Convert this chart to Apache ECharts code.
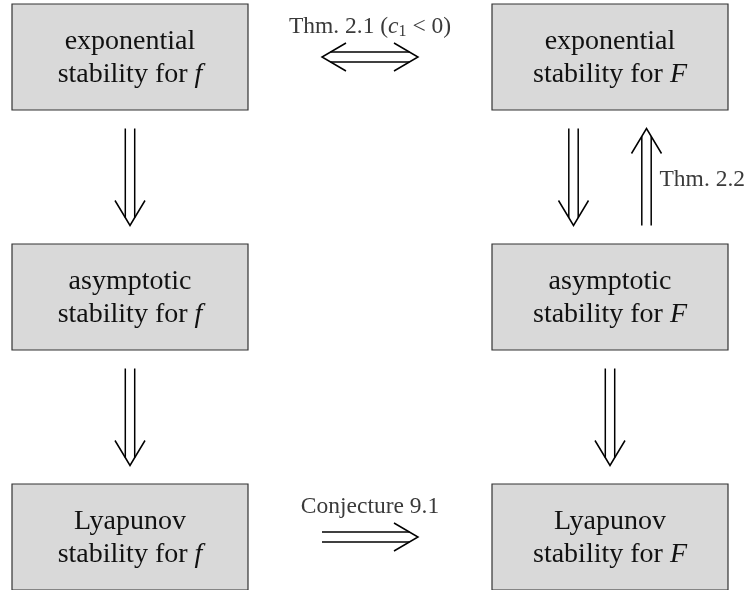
<!DOCTYPE html>
<html>
<head>
<meta charset="utf-8">
<script src="https://cdn.jsdelivr.net/npm/echarts@6/dist/echarts.min.js"></script>
<style>
  html, body { margin: 0; padding: 0; background: #fff; }
  #chart { width: 752px; height: 590px; }
</style>
</head>
<body>
<div id="chart"></div>
<script>
// boxes: grid column / row and their text
const boxCol = [0, 1, 0, 1, 0, 1]
const boxRow = [0, 0, 1, 1, 2, 2]
const boxTitle = ['exponential', 'exponential', 'asymptotic', 'asymptotic', 'Lyapunov', 'Lyapunov']
const boxVar = ['f', 'F', 'f', 'F', 'f', 'F']

// implications between boxes (indices into the box arrays)
const arrowFrom = [0, 2, 1, 3, 0, 4]
const arrowTo = [2, 4, 3, 5, 1, 5]
const arrowBoth = [false, false, false, false, true, false]
const arrowLabel = ['', '', '', '', 'Thm. 2.1 (', 'Conjecture 9.1']
// reverse implication drawn next to 1 -> 3
const extraFrom = [3]
const extraTo = [1]
const extraLabel = ['Thm. 2.2']

const FONT = '"Liberation Serif", "DejaVu Serif", serif'
const BOX_W = 236
const BOX_H = 106
const LEN = 48.5
const PAIR_GAP = 36.5
const BOX_FS = 28
const LAB_FS = 23.5

const allFrom = arrowFrom.concat(extraFrom)
const allTo = arrowTo.concat(extraTo)
const allBoth = arrowBoth.concat(extraFrom.map(() => false))
const allLabel = arrowLabel.concat(extraLabel)

function hasReverse(i) {
  for (let j = 0; j < allFrom.length; j++) {
    if (allFrom[j] === allTo[i] && allTo[j] === allFrom[i]) return true
  }
  return false
}

function head(tip, u, n, back, side) {
  return {
    type: 'polyline',
    shape: { points: [
      [tip[0] - u[0] * back + n[0] * side, tip[1] - u[1] * back + n[1] * side],
      tip,
      [tip[0] - u[0] * back - n[0] * side, tip[1] - u[1] * back - n[1] * side]
    ] },
    style: { stroke: '#000', lineWidth: 1.5, fill: null, lineJoin: 'miter' }
  }
}

const chart = echarts.init(document.getElementById('chart'), null, { renderer: 'canvas' })

chart.setOption({
  animation: false,
  backgroundColor: '#fff',
  grid: { left: 0, right: 0, top: 0, bottom: 0 },
  xAxis: { type: 'value', min: -130 / 480, max: 622 / 480, show: false },
  yAxis: { type: 'value', inverse: true, min: -57 / 240, max: 533 / 240, show: false },
  series: [
    {
      type: 'custom',
      coordinateSystem: 'cartesian2d',
      encode: { x: 0, y: 1 },
      data: boxCol.map((c, i) => [c, boxRow[i], i]),
      renderItem: (params, api) => {
        const i = api.value(2)
        const p = api.coord([api.value(0), api.value(1)])
        return {
          type: 'group',
          children: [
            {
              type: 'rect',
              shape: { x: p[0] - BOX_W / 2, y: p[1] - BOX_H / 2, width: BOX_W, height: BOX_H },
              style: { fill: '#d9d9d9', stroke: '#333', lineWidth: 1.2 }
            },
            {
              type: 'text',
              x: p[0],
              y: p[1] + 1,
              style: {
                text: boxTitle[i] + '\nstability for {v|' + boxVar[i] + '}',
                align: 'center',
                verticalAlign: 'middle',
                fontFamily: FONT,
                fontSize: BOX_FS,
                lineHeight: 33,
                fill: '#111',
                rich: {
                  v: { fontFamily: FONT, fontSize: BOX_FS, fontStyle: 'italic', lineHeight: 33, fill: '#111' }
                }
              }
            }
          ]
        }
      }
    },
    {
      type: 'custom',
      coordinateSystem: 'cartesian2d',
      encode: { x: [0, 2], y: [1, 3] },
      data: allFrom.map((f, i) => [boxCol[f], boxRow[f], boxCol[allTo[i]], boxRow[allTo[i]], i]),
      renderItem: (params, api) => {
        const i = api.value(4)
        const a = api.coord([api.value(0), api.value(1)])
        const b = api.coord([api.value(2), api.value(3)])
        const dx = b[0] - a[0]
        const dy = b[1] - a[1]
        const d = Math.hypot(dx, dy)
        const u = [dx / d, dy / d]
        const n = [-u[1], u[0]]
        let mid = [(a[0] + b[0]) / 2, (a[1] + b[1]) / 2]
        if (hasReverse(i) && !allBoth[i]) {
          mid = [mid[0] + n[0] * PAIR_GAP, mid[1] + n[1] * PAIR_GAP]
        }
        const horiz = Math.abs(u[0]) > 0.5
        const len = horiz ? 48 : LEN
        const back = horiz ? 24 : 25
        const side = horiz ? 14 : 15
        const off = horiz ? 5 : 4.7
        const tip = [mid[0] + u[0] * len, mid[1] + u[1] * len]
        const tail = [mid[0] - u[0] * len, mid[1] - u[1] * len]
        const cut = back * off / side
        const endT = len - cut
        const endS = allBoth[i] ? len - cut : len
        const children = []
        for (const s of [-1, 1]) {
          children.push({
            type: 'line',
            shape: {
              x1: mid[0] - u[0] * endS + n[0] * off * s,
              y1: mid[1] - u[1] * endS + n[1] * off * s,
              x2: mid[0] + u[0] * endT + n[0] * off * s,
              y2: mid[1] + u[1] * endT + n[1] * off * s
            },
            style: { stroke: '#000', lineWidth: 1.5 }
          })
        }
        children.push(head(tip, u, n, back, side))
        if (allBoth[i]) children.push(head(tail, [-u[0], -u[1]], n, back, side))

        const lab = allLabel[i]
        if (lab) {
          const style = { fontFamily: FONT, fontSize: LAB_FS, fill: '#3a3a3a' }
          if (horiz) {
            let text = lab
            let rich = {}
            if (lab === 'Thm. 2.1 (') {
              text = 'Thm. 2.1 ({i|c}{s|1} < 0)'
              rich = {
                i: { fontFamily: FONT, fontSize: LAB_FS, fontStyle: 'italic', fill: '#3a3a3a' },
                s: { fontFamily: FONT, fontSize: 16, fill: '#3a3a3a', padding: [9, 0, 0, 0] }
              }
            }
            children.push({
              type: 'text',
              x: mid[0],
              y: mid[1] - 30,
              style: Object.assign(style, { text: text, rich: rich, align: 'center', verticalAlign: 'middle' })
            })
          } else {
            children.push({
              type: 'text',
              x: mid[0] + 13,
              y: mid[1] + 3,
              style: Object.assign(style, { text: lab, align: 'left', verticalAlign: 'middle' })
            })
          }
        }
        return { type: 'group', children: children }
      }
    }
  ]
})
</script>
</body>
</html>
